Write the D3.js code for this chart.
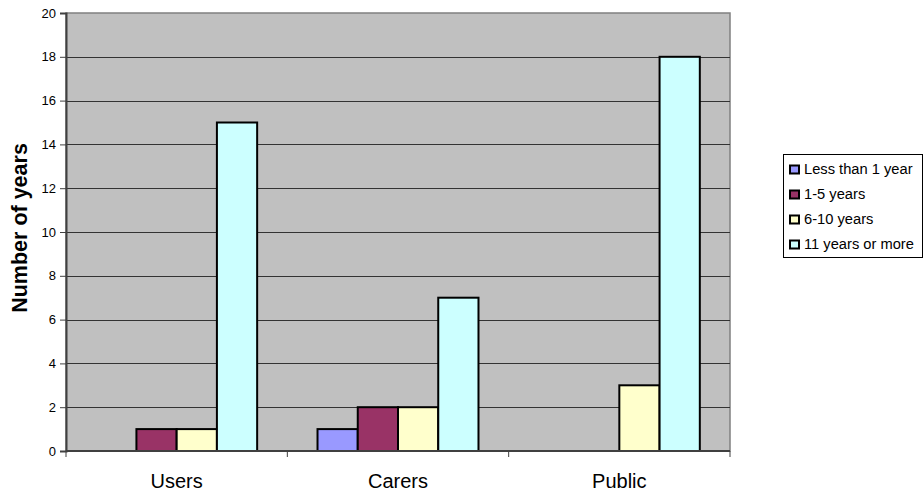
<!DOCTYPE html>
<html>
<head>
<meta charset="utf-8">
<script src="https://cdn.jsdelivr.net/npm/d3@7"></script>
<style>
  body { margin: 0; background: #fff; }
  svg { font-family: "Liberation Sans", Arial, sans-serif; }
</style>
</head>
<body>
<div id="chart"></div>
<script>
var categories = ["Users", "Carers", "Public"];
var seriesNames = ["Less than 1 year", "1-5 years", "6-10 years", "11 years or more"];
var seriesColors = ["#9999FF", "#993366", "#FFFFCC", "#CCFFFF"];
var lessThan1 = [0, 1, 0];
var years1to5 = [1, 2, 0];
var years6to10 = [1, 2, 3];
var years11plus = [15, 7, 18];
var yTicks = [0, 2, 4, 6, 8, 10, 12, 14, 16, 18, 20];

var seriesValues = [lessThan1, years1to5, years6to10, years11plus];

var width = 924, height = 495;
var margin = {top: 13, right: 194, bottom: 44, left: 66};
var innerW = width - margin.left - margin.right,
    innerH = height - margin.top - margin.bottom;

var svg = d3.select("#chart").append("svg")
  .attr("width", width).attr("height", height);

var g = svg.append("g")
  .attr("transform", "translate(" + margin.left + "," + margin.top + ")");

var x0 = d3.scaleBand().domain(categories).range([0, innerW]);
// gap of 150% bar width: 4 bars + 1.5 gap
var x1 = d3.scaleBand().domain(d3.range(seriesNames.length))
  .range([x0.bandwidth() * 0.75 / 5.5, x0.bandwidth() - x0.bandwidth() * 0.75 / 5.5]);
var y = d3.scaleLinear().domain([0, 20]).range([innerH, 0]);

// plot background
g.append("rect")
  .attr("width", innerW).attr("height", innerH)
  .attr("fill", "#C0C0C0")
  .attr("stroke", "#808080").attr("stroke-width", 1.5);

// gridlines
g.append("g").selectAll("line")
  .data(yTicks.filter(function(d) { return d > 0 && d < 20; }))
  .enter().append("line")
  .attr("x1", 0).attr("x2", innerW)
  .attr("y1", function(d) { return Math.round(y(d)) + 0.5; })
  .attr("y2", function(d) { return Math.round(y(d)) + 0.5; })
  .attr("stroke", "#333").attr("stroke-width", 1);

// bars
var groups = g.selectAll(".grp").data(categories).enter().append("g")
  .attr("transform", function(d) { return "translate(" + x0(d) + ",0)"; });

groups.selectAll("rect")
  .data(function(c, ci) {
    return seriesValues.map(function(vals, si) { return {si: si, v: vals[ci]}; })
      .filter(function(d) { return d.v > 0; });
  })
  .enter().append("rect")
  .attr("x", function(d) { return x1(d.si); })
  .attr("width", x1.bandwidth())
  .attr("y", function(d) { return y(d.v); })
  .attr("height", function(d) { return innerH - y(d.v); })
  .attr("fill", function(d) { return seriesColors[d.si]; })
  .attr("stroke", "#000").attr("stroke-width", 2);

// y axis
var yAxis = g.append("g")
  .call(d3.axisLeft(y).tickValues(yTicks).tickSize(6).tickPadding(4).tickFormat(d3.format("d")));
yAxis.select(".domain").attr("stroke", "#404040").attr("stroke-width", 2);
yAxis.selectAll(".tick line").attr("stroke", "#404040");
yAxis.selectAll("text").attr("font-size", 13).attr("fill", "#000")
  .attr("font-family", "Liberation Sans, Arial, sans-serif");

// x axis
var xAxis = g.append("g").attr("transform", "translate(0," + innerH + ")");
xAxis.append("line").attr("x1", 0).attr("x2", innerW)
  .attr("stroke", "#404040").attr("stroke-width", 2);
xAxis.selectAll(".xt").data([0, 1, 2, 3]).enter().append("line")
  .attr("x1", function(i) { return i * x0.step(); })
  .attr("x2", function(i) { return i * x0.step(); })
  .attr("y1", 0).attr("y2", 6)
  .attr("stroke", "#404040");
xAxis.selectAll(".xl").data(categories).enter().append("text")
  .attr("x", function(d) { return x0(d) + x0.bandwidth() / 2; })
  .attr("y", 37)
  .attr("text-anchor", "middle")
  .attr("font-size", 20)
  .text(function(d) { return d; });

// y axis title
svg.append("text")
  .attr("transform", "translate(27,228) rotate(-90)")
  .attr("text-anchor", "middle")
  .attr("font-size", 21.5).attr("font-weight", "bold")
  .text("Number of years");

// legend
var legend = svg.append("g").attr("transform", "translate(783,154)");
legend.append("rect")
  .attr("x", 0.5).attr("y", 0.5).attr("width", 139).attr("height", 103)
  .attr("fill", "#fff").attr("stroke", "#000").attr("stroke-width", 1);
var items = legend.selectAll(".item").data(seriesNames).enter().append("g")
  .attr("transform", function(d, i) { return "translate(0," + (20 + i * 25) + ")"; });
items.append("rect")
  .attr("x", 7).attr("y", -8.5).attr("width", 9).attr("height", 8)
  .attr("fill", function(d, i) { return seriesColors[i]; })
  .attr("stroke", "#000").attr("stroke-width", 2);
items.append("text")
  .attr("x", 21).attr("y", 0)
  .attr("font-size", 14.7)
  .text(function(d) { return d; });
</script>
</body>
</html>
